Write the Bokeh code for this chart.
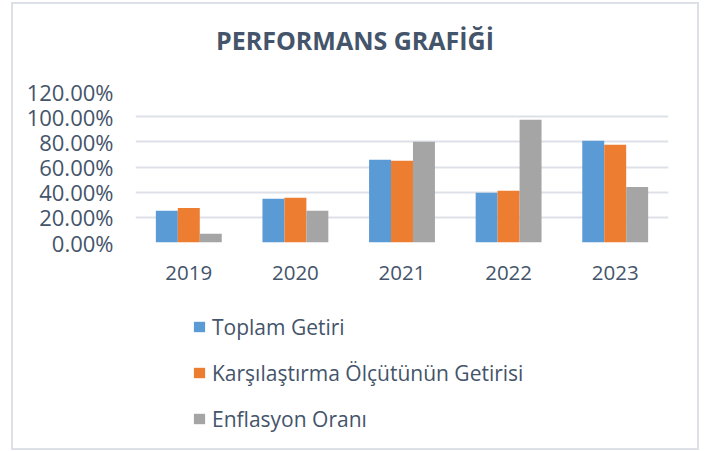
from bokeh.plotting import figure
from bokeh.layouts import column
from bokeh.models import (FactorRange, Range1d, FixedTicker, NumeralTickFormatter,
                          ColumnDataSource, Legend, LegendItem, Label)
from bokeh.transform import dodge
from bokeh.embed import file_html
from bokeh.resources import INLINE

title_text = "PERFORMANS GRAFİĞİ"
years = ["2019", "2020", "2021", "2022", "2023"]
toplam_getiri = [0.252, 0.347, 0.657, 0.395, 0.808]
karsilastirma = [0.275, 0.355, 0.649, 0.411, 0.776]
enflasyon = [0.069, 0.252, 0.800, 0.975, 0.442]
series_names = ["Toplam Getiri", "Karşılaştırma Ölçütünün Getirisi", "Enflasyon Oranı"]
series_colors = ["#5b9bd5", "#ed7d31", "#a5a5a5"]
y_ticks = [0.0, 0.2, 0.4, 0.6, 0.8, 1.0, 1.2]

TEXT = "#44546a"
FONT = "Open Sans"
GRID = "#dde1e7"

src = ColumnDataSource(dict(year=years, a=toplam_getiri, b=karsilastirma, c=enflasyon))


def blank(fig):
    fig.axis.visible = False
    fig.grid.visible = False
    fig.outline_line_color = None


# ---- title strip ----
tf = figure(width=684, height=60, x_range=Range1d(0, 1), y_range=Range1d(0, 1),
            output_backend="svg", toolbar_location=None,
            min_border_left=0, min_border_right=0, min_border_top=0, min_border_bottom=0)
blank(tf)
tf.add_layout(Label(x=219.5, y=25, x_units="screen", y_units="screen", text=title_text,
                    text_align="center", text_baseline="middle", text_font=FONT,
                    text_font_size="25px", text_font_style="bold", text_color=TEXT))

# ---- main chart ----
p = figure(width=684, height=236, x_range=FactorRange(*years), y_range=Range1d(0, 1.2),
           output_backend="svg", toolbar_location=None,
           min_border_left=122, min_border_right=29, min_border_top=27, min_border_bottom=58)

bw = 0.206
offsets = [-bw, 0, bw]
for col, off, color in zip(["a", "b", "c"], offsets, series_colors):
    p.vbar(x=dodge("year", off, range=p.x_range), top=col, width=bw, source=src,
           fill_color=color, line_color=None)

p.outline_line_color = None
p.yaxis.ticker = FixedTicker(ticks=y_ticks)
p.yaxis.formatter = NumeralTickFormatter(format="0.00%")
for ax in (p.xaxis[0], p.yaxis[0]):
    ax.axis_line_color = None
    ax.major_tick_line_color = None
    ax.minor_tick_line_color = None
    ax.major_label_text_font = FONT
    ax.major_label_text_color = TEXT
p.yaxis.major_label_text_font_size = "22px"
p.xaxis.major_label_text_font_size = "20.5px"
p.yaxis.major_label_standoff = 16
p.xaxis.major_label_standoff = 17
p.xgrid.grid_line_color = None
p.ygrid.grid_line_color = GRID
p.ygrid.grid_line_width = 2

# ---- legend panel ----
lg = figure(width=684, height=148, x_range=FactorRange(*years), y_range=Range1d(10, 11),
            output_backend="svg", toolbar_location=None,
            min_border_left=0, min_border_right=0, min_border_top=0, min_border_bottom=0)
blank(lg)
leg_renderers = []
for col, off, color in zip(["a", "b", "c"], offsets, series_colors):
    r = lg.vbar(x=dodge("year", off, range=lg.x_range), top=col, width=bw, source=src,
                fill_color=color, line_color=None)
    leg_renderers.append(r)

legend = Legend(items=[LegendItem(label=n, renderers=[r]) for n, r in zip(series_names, leg_renderers)],
                location=(57, 15), orientation="vertical",
                padding=0, margin=0, spacing=17, label_height=29, glyph_height=13, glyph_width=14,
                label_standoff=6, border_line_color=None, background_fill_alpha=0,
                label_text_font=FONT, label_text_font_size="21px", label_text_color=TEXT)
lg.add_layout(legend, "center")

layout = column(tf, p, lg, margin=(2, 0, 0, 11), styles={"border": "2px solid " + GRID})

open("out.html", "w").write(file_html(layout, INLINE))
